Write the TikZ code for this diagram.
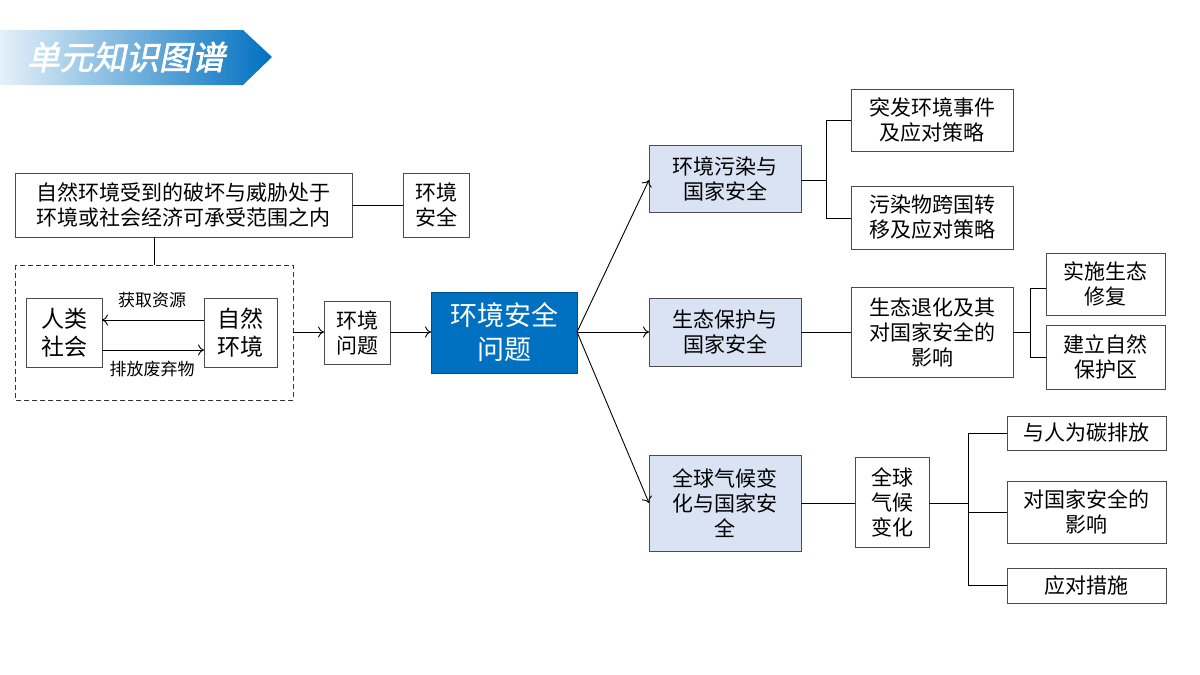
\documentclass[tikz,border=0pt]{standalone}
\usepackage{fontspec}
\setmainfont{Noto Sans CJK SC}
\newfontfamily\hdfont[FakeSlant=0.2,FakeBold=2]{Noto Sans CJK SC}
\usetikzlibrary{arrows.meta}
\definecolor{hb}{RGB}{0,112,192}
\definecolor{lbb}{RGB}{218,227,243}
\begin{document}
\begin{tikzpicture}[x=1pt,y=-1pt,
  bx/.style={draw=black!70,line width=0.8pt,fill=white},
  lb/.style={font=\fontsize{21}{25}\selectfont,align=center,inner sep=0pt},
  ln/.style={line width=0.9pt},
  ar/.style={line width=0.9pt,-{To[length=6pt,width=11pt]}},
  hl/.style={bx,fill=lbb}]
\useasboundingbox (0,0) rectangle (1200,675);
% header
\shade[left color=hb!10!white,right color=hb] (0,30) -- (243,30) -- (272,57) -- (243,85) -- (0,85) -- cycle;
\node[font=\hdfont\fontsize{33}{36}\selectfont,text=white,inner sep=0pt] (hd) at (126,57) {单元知识图谱};
% left part
\draw[bx] (15,173) rectangle (352,237); \node[lb] (A) at (183.5,205) {自然环境受到的破坏与威胁处于\\环境或社会经济可承受范围之内};
\draw[bx] (403,173) rectangle (469,237); \node[lb] (B) at (436,205) {环境\\安全};
\coordinate (Ar) at (352,205); \coordinate (Bl) at (403,205);
\draw[ln] (Ar) -- (Bl);
\coordinate (Ab) at (154,237); \coordinate (Dt) at (154,265);
\draw[ln] (Ab) -- (Dt);
\draw[line width=0.9pt,dash pattern=on 5pt off 3pt,draw=black!80] (15,265) rectangle (293,400);
\draw[bx] (26,298) rectangle (102,367); \node[lb,font=\fontsize{23}{28}\selectfont] (H) at (64,332.5) {人类\\社会};
\draw[bx] (204,298) rectangle (277,367); \node[lb,font=\fontsize{23}{28}\selectfont] (N) at (240.5,332.5) {自然\\环境};
\coordinate (n1) at (204,320); \coordinate (h1) at (102,320);
\coordinate (h2) at (102,350); \coordinate (n2) at (204,350);
\draw[ar] (n1) -- (h1);
\draw[ar] (h2) -- (n2);
\node[font=\fontsize{17}{18}\selectfont,inner sep=0pt] (l1) at (152,300) {获取资源};
\node[font=\fontsize{17}{18}\selectfont,inner sep=0pt] (l2) at (152,369) {排放废弃物};
\draw[bx] (324,301) rectangle (390,364); \node[lb] (P) at (357,332.5) {环境\\问题};
\coordinate (Dr) at (293,332); \coordinate (Pl) at (324,332);
\draw[ar] (Dr) -- (Pl);
\draw[draw=hb!70!black,line width=0.8pt,fill=hb] (431,292) rectangle (577,373);
\node[lb,font=\fontsize{27}{34}\selectfont,text=white] (C) at (504,332.5) {环境安全\\问题};
\coordinate (Pr) at (390,332); \coordinate (Cl) at (431,332);
\draw[ar] (Pr) -- (Cl);
% branches
\coordinate (Cr) at (577,332);
\draw[hl] (649,145) rectangle (801,212); \node[lb] (E1) at (725,178.5) {环境污染与\\国家安全};
\draw[hl] (649,298) rectangle (801,366); \node[lb] (E2) at (725,332) {生态保护与\\国家安全};
\draw[hl] (649,455) rectangle (801,551); \node[lb] (E3) at (725,503) {全球气候变\\化与国家安\\全};
\coordinate (E1l) at (649,180); \coordinate (E2l) at (649,332); \coordinate (E3l) at (649,503);
\draw[ar] (Cr) -- (E1l); \draw[ar] (Cr) -- (E2l); \draw[ar] (Cr) -- (E3l);
% branch 1
\draw[bx] (851,89) rectangle (1013,151); \node[lb] (F1) at (932,120) {突发环境事件\\及应对策略};
\draw[bx] (851,186) rectangle (1013,249); \node[lb] (F2) at (932,217.5) {污染物跨国转\\移及应对策略};
\draw[ln] (801,180) -- (826,180) (826,120) -- (826,218) (826,120) -- (851,120) (826,218) -- (851,218);
% branch 2
\draw[bx] (851,287) rectangle (1013,377); \node[lb] (G) at (932,332) {生态退化及其\\对国家安全的\\影响};
\draw[ln] (801,332) -- (851,332);
\draw[bx] (1046,253) rectangle (1165,315); \node[lb] (G1) at (1105.5,284) {实施生态\\修复};
\draw[bx] (1046,325) rectangle (1165,389); \node[lb] (G2) at (1105.5,357) {建立自然\\保护区};
\draw[ln] (1013,332) -- (1030,332) (1030,288) -- (1030,357) (1030,288) -- (1046,288) (1030,357) -- (1046,357);
% branch 3
\draw[bx] (855,457) rectangle (929,547); \node[lb] (K) at (892,502) {全球\\气候\\变化};
\draw[ln] (801,503) -- (855,503);
\draw[bx] (1007,416) rectangle (1166,450); \node[lb] (K1) at (1086.5,433) {与人为碳排放};
\draw[bx] (1007,481) rectangle (1166,543); \node[lb] (K2) at (1086.5,512) {对国家安全的\\影响};
\draw[bx] (1007,568) rectangle (1166,603); \node[lb] (K3) at (1086.5,585.5) {应对措施};
\draw[ln] (929,503) -- (968,503) (968,433) -- (968,585) (968,433) -- (1007,433) (968,512) -- (1007,512) (968,585) -- (1007,585);
\end{tikzpicture}
\end{document}
